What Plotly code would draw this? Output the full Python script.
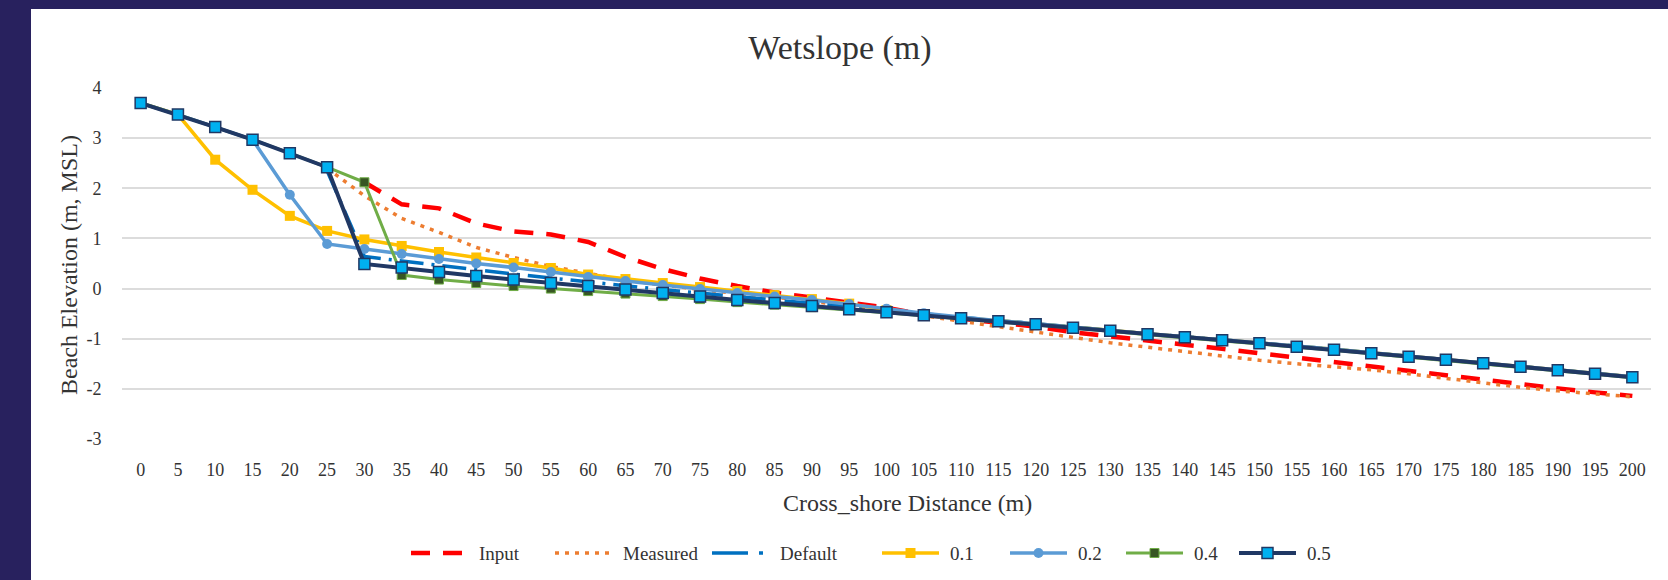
import plotly.graph_objects as go

# ---------------- data ----------------
distance = [0, 5, 10, 15, 20, 25, 30, 35, 40, 45, 50, 55, 60, 65, 70, 75, 80, 85, 90, 95,
            100, 105, 110, 115, 120, 125, 130, 135, 140, 145, 150, 155, 160, 165, 170, 175,
            180, 185, 190, 195, 200]

input_elev = [None, None, None, None, None, None, 2.12, 1.68, 1.60, 1.30, 1.14, 1.08, 0.93, 0.63,
              0.39, 0.20, 0.05, -0.08, -0.18, -0.27, -0.38, -0.52, -0.60, -0.67, -0.76, -0.87,
              -0.96, -1.04, -1.12, -1.20, -1.29, -1.38, -1.47, -1.56, -1.64, -1.73, -1.82, -1.91,
              -1.99, -2.07, -2.14]

measured_elev = [None, None, None, None, None, 2.40, 1.85, 1.40, 1.12, 0.82, 0.62, 0.44, 0.30, 0.17,
                 0.07, -0.02, -0.10, -0.17, -0.25, -0.34, -0.44, -0.54, -0.65, -0.76, -0.87, -0.98,
                 -1.08, -1.17, -1.26, -1.35, -1.43, -1.50, -1.56, -1.62, -1.70, -1.79, -1.89, -1.97,
                 -2.04, -2.10, -2.16]

default_elev = [None, None, None, None, None, 2.35, 0.64, 0.55, 0.46, 0.37, 0.29, 0.21, 0.13, 0.06,
                -0.02, -0.09, -0.16, -0.23, -0.30, -0.37, -0.44, -0.51, -0.58, -0.64, -0.70, -0.77,
                -0.83, -0.90, -0.96, -1.02, -1.08, -1.15, -1.21, -1.28, -1.35, -1.41, -1.48, -1.55,
                -1.62, -1.69, -1.76]

ws_01 = [3.70, 3.47, 2.57, 1.97, 1.45, 1.15, 0.98, 0.85, 0.73, 0.62, 0.51, 0.41, 0.28, 0.19,
         0.11, 0.03, -0.05, -0.13, -0.21, -0.30, -0.43, -0.51, -0.58, -0.64, -0.70, -0.77,
         -0.83, -0.90, -0.96, -1.02, -1.08, -1.15, -1.21, -1.28, -1.35, -1.41, -1.48, -1.55,
         -1.62, -1.69, -1.76]

ws_02 = [3.70, 3.47, 3.22, 2.97, 1.87, 0.89, 0.79, 0.69, 0.59, 0.50, 0.42, 0.33, 0.23, 0.15,
         0.07, -0.01, -0.09, -0.16, -0.23, -0.31, -0.40, -0.49, -0.57, -0.64, -0.70, -0.77,
         -0.83, -0.90, -0.96, -1.02, -1.08, -1.15, -1.21, -1.28, -1.35, -1.41, -1.48, -1.55,
         -1.62, -1.69, -1.76]

ws_04 = [3.70, 3.47, 3.22, 2.97, 2.70, 2.42, 2.12, 0.27, 0.18, 0.11, 0.05, 0.00, -0.05, -0.10,
         -0.15, -0.21, -0.27, -0.32, -0.37, -0.43, -0.48, -0.54, -0.60, -0.66, -0.72, -0.79,
         -0.85, -0.92, -0.98, -1.04, -1.10, -1.17, -1.23, -1.30, -1.37, -1.43, -1.50, -1.57,
         -1.64, -1.71, -1.78]

ws_05 = [3.70, 3.47, 3.22, 2.97, 2.70, 2.42, 0.49, 0.42, 0.33, 0.25, 0.18, 0.11, 0.05, -0.02,
         -0.09, -0.16, -0.23, -0.29, -0.35, -0.41, -0.47, -0.53, -0.59, -0.65, -0.71, -0.78,
         -0.84, -0.91, -0.97, -1.03, -1.09, -1.16, -1.22, -1.29, -1.36, -1.42, -1.49, -1.56,
         -1.63, -1.70, -1.77]

y_ticks = [-3, -2, -1, 0, 1, 2, 3, 4]

# ---------------- figure ----------------
W, H = 1668, 580
L, R, T, B = 122, 17, 88, 141
PW, PH = W - L - R, H - T - B


def px_x(p):
    return (p - L) / PW


def px_y(p):
    return (H - B - p) / PH


FONT = "Liberation Serif"
TXT = "#333333"

# name, values, line style, marker style (None = no marker), legend dash override
series = [
    ("Input", input_elev, dict(color="#FF0000", width=4.5, dash="19px,13px"), None, "19px,13px"),
    ("Measured", measured_elev, dict(color="#ED7D31", width=3.5, dash="4px,6px"), None, "4px,6px"),
    ("Default", default_elev, dict(color="#0070C0", width=3.5, dash="24px,8px,3px,8px"), None,
     "36px,11px,4px,20px"),
    ("0.1", ws_01, dict(color="#FFC000", width=3.5),
     dict(symbol="square", size=10, color="#FFC000"), None),
    ("0.2", ws_02, dict(color="#5B9BD5", width=3.5),
     dict(symbol="circle", size=10, color="#5B9BD5"), None),
    ("0.4", ws_04, dict(color="#70AD47", width=3),
     dict(symbol="square", size=9, color="#375623", line=dict(color="#70AD47", width=1)), None),
    ("0.5", ws_05, dict(color="#203864", width=4),
     dict(symbol="square", size=11, color="#00B0F0", line=dict(color="#203864", width=1.5)), None),
]

fig = go.Figure()
for name, vals, line, marker, _ in series:
    kw = dict(mode="lines+markers", marker=marker) if marker else dict(mode="lines")
    fig.add_trace(go.Scatter(x=distance, y=vals, name=name, line=line, showlegend=False, **kw))

# ---- legend (drawn below the plot, Excel style: long key line + label) ----
legend_text_px = [477, 621, 778, 948, 1076, 1192, 1305]
LEG_Y = 553
shapes = [
    dict(type="rect", xref="paper", yref="paper", x0=px_x(0), x1=px_x(31),
         y0=px_y(H), y1=px_y(0), fillcolor="#28215E", line=dict(width=0), layer="above"),
    dict(type="rect", xref="paper", yref="paper", x0=px_x(0), x1=px_x(W),
         y0=px_y(9), y1=px_y(0), fillcolor="#28215E", line=dict(width=0), layer="above"),
]
annotations = [
    dict(text="Cross_shore Distance (m)", xref="paper", yref="paper", x=px_x(907), y=px_y(503),
         xanchor="center", yanchor="middle", showarrow=False,
         font=dict(family=FONT, size=24, color=TXT)),
    dict(text="Beach Elevation (m, MSL)", xref="paper", yref="paper", x=px_x(69), y=px_y(265),
         xanchor="center", yanchor="middle", showarrow=False, textangle=-90,
         font=dict(family=FONT, size=24, color=TXT)),
]
for (name, vals, line, marker, ldash), tx in zip(series, legend_text_px):
    x0, x1 = tx - 66, tx - 9
    shapes.append(dict(type="line", xref="paper", yref="paper",
                       x0=px_x(x0), x1=px_x(x1), y0=px_y(LEG_Y), y1=px_y(LEG_Y),
                       line=dict(color=line["color"], width=line["width"],
                                 dash=ldash if ldash else "solid")))
    if marker:
        cx = (x0 + x1) / 2
        s = marker["size"] / 2
        mline = marker.get("line", dict(color=marker["color"], width=0))
        shapes.append(dict(type="circle" if marker["symbol"] == "circle" else "rect",
                           xref="paper", yref="paper",
                           x0=px_x(cx - s), x1=px_x(cx + s),
                           y0=px_y(LEG_Y + s), y1=px_y(LEG_Y - s),
                           fillcolor=marker["color"],
                           line=dict(color=mline["color"], width=mline["width"])))
    annotations.append(dict(text=name, xref="paper", yref="paper", x=px_x(tx), y=px_y(LEG_Y),
                            xanchor="left", yanchor="middle", showarrow=False,
                            font=dict(family=FONT, size=19, color=TXT)))

fig.update_layout(
    width=W, height=H,
    margin=dict(l=L, r=R, t=T, b=B),
    paper_bgcolor="white", plot_bgcolor="white",
    font=dict(family=FONT, color=TXT, size=18),
    title=dict(text="Wetslope (m)", x=840 / W, xref="container", xanchor="center",
               y=1 - 47 / H, yref="container", yanchor="middle",
               font=dict(family=FONT, size=34, color=TXT)),
    showlegend=False,
    xaxis=dict(range=[-2.5, 202.5], tickmode="array", tickvals=distance,
               ticktext=[str(v) for v in distance], showgrid=False, zeroline=False,
               showline=False, ticks="outside", ticklen=14, tickcolor="rgba(0,0,0,0)",
               tickfont=dict(family=FONT, size=18, color=TXT), automargin=False),
    yaxis=dict(range=[-3, 4], tickmode="array", tickvals=y_ticks,
               ticktext=[str(v) for v in y_ticks], showgrid=True, gridcolor="#DCDCDC",
               gridwidth=2, zeroline=False, showline=False, ticks="outside", ticklen=16,
               tickcolor="rgba(0,0,0,0)", tickfont=dict(family=FONT, size=18, color=TXT),
               automargin=False),
    annotations=annotations,
    shapes=shapes,
)

fig.write_html("out.html", config={"displayModeBar": False},
               post_script="document.body.style.margin='0';document.body.style.overflow='hidden';")
